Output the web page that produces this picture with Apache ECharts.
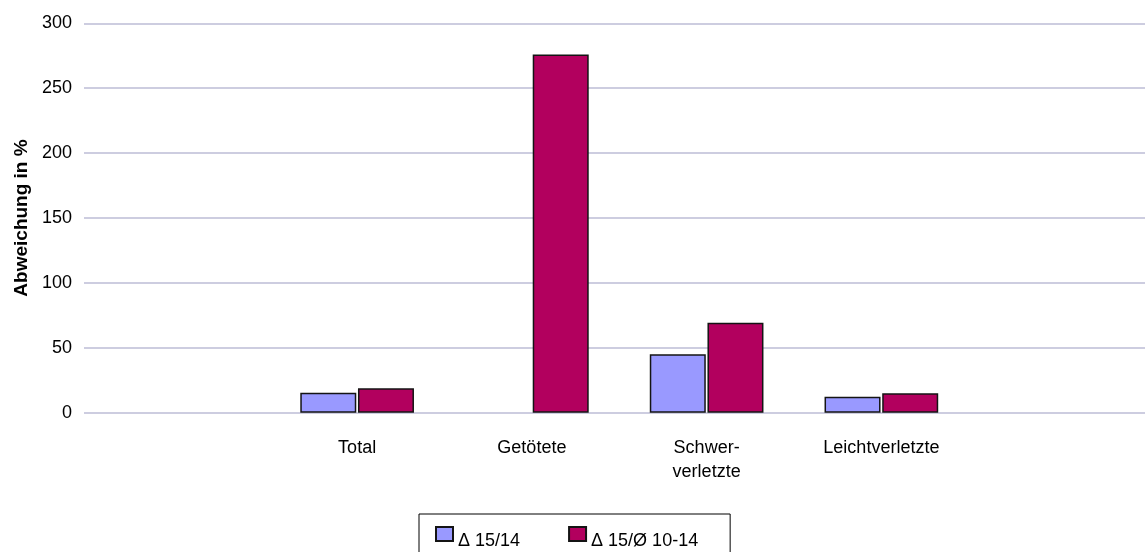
<!DOCTYPE html>
<html>
<head>
<meta charset="utf-8">
<script src="https://cdn.jsdelivr.net/npm/echarts@6/dist/echarts.min.js"></script>
<style>
html,body{margin:0;padding:0;background:#fff;}
#chart{width:1145px;height:552px;}
</style>
</head>
<body>
<div id="chart"></div>
<script>
var categories = ['', 'Total', 'Getötete', 'Schwer-\nverletzte', 'Leichtverletzte', ''];
var seriesNames = ['Δ 15/14', 'Δ 15/Ø 10-14'];
var delta1514 = [null, 15.4, null, 45.0, 12.3, null];
var delta15avg = [null, 18.8, 276.0, 69.3, 14.9, null];
var yMin = 0, yMax = 300, yStep = 50;

var FONT = 'Liberation Sans, Arial, sans-serif';
var chart = echarts.init(document.getElementById('chart'));
var option = {
  animation: false,
  backgroundColor: '#ffffff',
  textStyle: { fontFamily: FONT },
  grid: [
    { left: 84, right: 0, top: 23.3, bottom: 139.3 },
    { left: 95, right: 1.5, top: 23.3, bottom: 139.3 }
  ],
  legend: {
    data: seriesNames,
    left: 419, top: 514,
    orient: 'horizontal',
    padding: [4, 32, 10, 16],
    itemWidth: 17, itemHeight: 14, itemGap: 48,
    borderColor: '#000', borderWidth: 1,
    icon: 'rect',
    formatter: function (name) { return '{t|' + name + '}'; },
    textStyle: {
      fontFamily: FONT, fontSize: 18, color: '#000',
      rich: { t: { fontFamily: FONT, fontSize: 18, color: '#000', lineHeight: 18, padding: [14, 0, 0, 0] } }
    }
  },
  xAxis: [
    { type: 'value', gridIndex: 0, show: false, min: 0, max: 1 },
    {
      type: 'category', gridIndex: 1, data: categories,
      axisLine: { show: false }, axisTick: { show: false },
      axisLabel: { color: '#000', fontFamily: FONT, fontSize: 18, lineHeight: 24, margin: 23, interval: 0 }
    }
  ],
  yAxis: [
    {
      type: 'value', gridIndex: 0, min: yMin, max: yMax, interval: yStep,
      name: 'Abweichung in %', nameLocation: 'middle', nameGap: 50,
      nameTextStyle: { fontFamily: FONT, fontSize: 19, fontWeight: 'bold', color: '#000' },
      axisLine: { show: false }, axisTick: { show: false },
      axisLabel: { color: '#000', fontFamily: FONT, fontSize: 18, margin: 12 },
      splitLine: { lineStyle: { color: '#bcbcd6', width: 1.5 } }
    },
    { type: 'value', gridIndex: 1, min: yMin, max: yMax, interval: yStep, show: false, splitLine: { show: false } }
  ],
  series: [
    {
      name: seriesNames[0], type: 'bar', xAxisIndex: 1, yAxisIndex: 1,
      data: delta1514, barWidth: 56, barGap: '3%',
      itemStyle: { color: '#9999ff', borderColor: '#141414', borderWidth: 1.5 }
    },
    {
      name: seriesNames[1], type: 'bar', xAxisIndex: 1, yAxisIndex: 1,
      data: delta15avg, barWidth: 56, barGap: '3%',
      itemStyle: { color: '#b2005e', borderColor: '#141414', borderWidth: 1.5 }
    }
  ]
};
chart.setOption(option);
</script>
</body>
</html>
